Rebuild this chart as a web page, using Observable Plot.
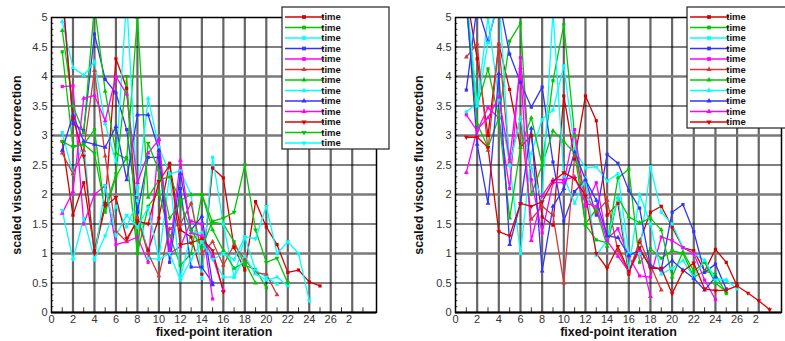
<!DOCTYPE html>
<html><head><meta charset="utf-8">
<script src="https://cdn.jsdelivr.net/npm/d3@7"></script>
<script src="https://cdn.jsdelivr.net/npm/@observablehq/plot@0.6"></script>
<style>
body{margin:0;background:#fff;}
#wrap{position:relative;width:785px;height:341px;overflow:hidden;font-family:"Liberation Sans",Arial,sans-serif;}
#left{position:absolute;left:0;top:0;}
#right{position:absolute;left:400px;top:0;}
</style></head><body><div id="wrap"><div id="left"></div><div id="right"></div></div>
<script>
// ---- series styling (legend order) ----
const seriesColors = ["#d40000","#00c800","#00ffff","#3333ff","#ff00ff",
                      "#d23a3a","#00c800","#00ffff","#3333ff","#ff00ff",
                      "#e00000","#00c800","#00ffff"];
const seriesSymbols = ["square","square","square","square","square",
                       "triangle","triangle","triangle","triangle","triangle",
                       "down","down","down"];
const legendLabel = "time";

// ---- axis ticks ----
const xTicks = [0,2,4,6,8,10,12,14,16,18,20,22,24,26,28];
const xTickLabels = ["0","2","4","6","8","10","12","14","16","18","20","22","24","26","2\u2007"];
const yTicks = [0,0.5,1,1.5,2,2.5,3,3.5,4,4.5,5];
const yTickLabels = ["0","0.5","1","1.5","2","2.5","3","3.5","4","4.5","5"];

// ---- left panel: values at iteration 1..N ----
const L1  = [2.9,1.65,2.2,1.05,1.85,4.3,3.8,1.6,1.05,1.6,2.53,1.4,1.28,0.65,2.45,2.28,1.1,0.72,1.88,1.45,1.15,0.68,0.72,0.52,0.45];
const L2  = [4.42,2.82,2.85,3.1,1.7,2.3,2.63,1.0,1.8,2.05,1.3,0.8,1.0,2.0,1.53,1.5,1.2,0.8,0.73,0.42];
const L3  = [3.05,2.35,2.9,0.9,1.3,1.8,1.45,1.9,0.92,0.9,2.35,2.4,2.0,0.58,2.63,1.5,0.6,1.28,0.72,0.6,0.48];
const L4  = [5.5,3.2,3.08,4.72,3.95,3.72,3.1,1.7,2.63,2.63,0.85,2.1,0.77,0.77,0.5];
const L5  = [3.83,3.84,1.5,2.0,2.15,1.15,1.2,1.28,0.85,2.93,1.0,1.12,1.55,1.5,0.23];
const L6  = [2.7,2.35,2.75,4.1,2.65,1.38,1.2,1.6,1.0,0.62,1.42,1.5,1.85,1.0,1.2,0.8,1.15,0.9,0.67,0.65,0.3];
const L7  = [4.78,3.5,3.05,5.2,3.75,2.7,2.6,5.0,1.95,2.25,2.3,1.9,2.0,2.0,1.4,1.05,0.75,0.85,0.5];
const L8  = [4.93,4.15,4.02,4.25,3.2,2.55,5.3,2.0,3.63,2.8,2.35,0.58,1.35,1.35,0.92,0.6,0.6,0.95,0.65,0.55,0.6,0.45];
const L9  = [2.75,3.35,2.9,2.85,2.8,3.15,2.25,3.35,3.35,2.75,1.0,2.35,1.4,1.63,0.47];
const L10 = [1.68,2.05,3.63,3.68,3.25,4.0,3.7,2.2,2.7,2.93,1.05,2.58,1.35,1.3,0.95,0.38];
const L11 = [5.4,3.3,2.65,1.0,1.8,1.95,1.25,1.55,1.5,2.22,2.5,1.15,1.18,1.25,1.05,0.35];
const L12 = [2.9,2.8,2.85,2.7,1.75,2.35,4.0,1.0,2.87,2.4,1.6,1.85,1.4,1.1,1.55,1.6,1.7,2.5,1.4,0.85,0.92,0.5];
const L13 = [1.73,0.9,1.6,0.9,2.15,1.3,1.65,1.45,1.78,0.9,1.0,0.55,0.9,1.2,0.9,1.0,0.9,1.28,1.25,1.8,1.0,1.2,1.0,0.2];

// ---- right panel ----
const R1  = [5.4,4.3,3.0,4.55,3.78,2.8,3.0,1.62,1.48,3.67,2.6,3.67,3.25,1.65,1.85,0.65,1.2,1.7,1.8,1.45,1.1,1.05,0.7,1.07,0.85,0.45];
const R2  = [5.3,3.5,4.13,3.3,4.6,4.9,2.0,2.5,3.93,4.88,3.0,1.48,1.23,1.18,2.28,2.43,0.85,1.08,0.92,1.05,1.0,0.6,0.7,0.65,0.32];
const R3  = [3.4,3.55,5.0,3.6,2.5,1.0,2.7,3.27,3.43,4.18,2.75,2.45,2.47,2.23,2.35,1.0,1.0,2.47,1.7,1.5,1.1,1.0,0.88,0.55,0.55,0.4];
const R4  = [3.77,5.2,4.6,5.3,4.38,3.9,3.48,3.82,2.55,1.55,2.05,2.25,1.65,2.68,2.53,2.07,1.77,0.77,0.73,1.7,1.83,1.37,0.68,0.82,0.4];
const R5  = [3.35,3.08,3.47,3.3,2.1,4.32,2.25,1.35,2.2,2.2,3.1,1.8,2.2,1.25,1.42,0.95,0.62,0.6,1.28,1.22,1.1,1.0,0.55,0.22];
const R6  = [4.33,4.55,2.75,4.55,2.55,3.3,1.58,1.8,1.65,0.5,2.65,2.0,1.7,1.9,1.05,0.68,1.22,0.8,0.38];
const R7  = [5.2,3.2,2.8,3.3,1.6,2.8,3.3,2.5,3.08,2.9,2.7,1.5,1.75,1.12,1.95,1.62,1.52,1.6,1.4,0.6,1.03,0.7,0.85,0.5,0.35];
const R8  = [5.4,3.5,4.57,5.4,2.5,3.3,2.45,1.9,5.1,2.3,1.85,2.27,0.97,1.22,1.95,0.72,2.0,1.5,0.65,0.75,0.88,0.6,0.88,0.58,0.55];
const R9  = [5.3,2.85,1.85,4.05,1.15,1.85,3.12,0.7,1.8,2.1,2.72,2.25,1.9,1.3,1.27,0.97,1.05,0.8,0.72,0.88,0.72,0.58,0.38,0.6];
const R10 = [2.37,3.1,3.3,3.65,2.6,4.15,1.22,1.98,2.25,2.25,2.3,1.85,1.8,1.22,0.95,0.7,1.05,0.27];
const R11 = [2.97,2.97,2.8,1.37,1.3,1.85,1.8,1.88,2.22,2.37,2.27,1.98,1.0,0.75,1.12,0.7,1.1,0.75,0.75,0.32,0.7,0.84,0.4,0.37,0.38,0.45,0.33,0.2,0.05];

const leftSeries = [L1,L2,L3,L4,L5,L6,L7,L8,L9,L10,L11,L12,L13];
const rightSeries = [R1,R2,R3,R4,R5,R6,R7,R8,R9,R10,R11];

function rowsOf(series) {
  const rows = [];
  series.forEach((vals, s) => vals.forEach((v, j) => rows.push({s, x: j + 1, y: v})));
  return rows;
}

function makePanel(series, opts) {
  const rows = rowsOf(series);
  const col = d => seriesColors[d.s];
  const sq = rows.filter(d => seriesSymbols[d.s] === "square");
  const tri = rows.filter(d => seriesSymbols[d.s] === "triangle");
  const dn = rows.filter(d => seriesSymbols[d.s] === "down");
  const evenX = d3.range(2, 29, 2);
  const oddX = d3.range(1, 30, 2);
  const intY = [1,2,3,4];
  const halfY = [0.5,1.5,2.5,3.5,4.5];
  const minorY = d3.range(1, 50).map(i => i / 10);
  const svg = Plot.plot({
    width: opts.width, height: 341,
    marginLeft: opts.ml, marginRight: opts.mr, marginTop: 17, marginBottom: 29,
    style: {fontFamily: '"Liberation Sans", Arial, sans-serif', background: "white"},
    x: {domain: [0, opts.xmax]},
    y: {domain: [0, 5]},
    color: {type: "identity"},
    marks: [
      Plot.ruleX(evenX, {stroke: "#666", strokeWidth: 2.2}),
      Plot.ruleY(intY, {stroke: "#7a7a7a", strokeWidth: 2.6}),
      Plot.ruleY(halfY, {stroke: "#000", strokeWidth: 1.1}),
      Plot.ruleY(minorY, {x1: 0, x2: 0.22, stroke: "#000", strokeWidth: 0.8}),
      Plot.ruleX(oddX.filter(v => v < opts.xmax), {y1: 0, y2: 0.08, stroke: "#000", strokeWidth: 0.8}),
      Plot.line(rows, {x: "x", y: "y", z: "s", stroke: col, strokeWidth: 1.3, clip: true}),
      Plot.dot(sq, {x: "x", y: "y", symbol: "square", r: 1.8, fill: col, stroke: null, clip: true}),
      Plot.dot(tri, {x: "x", y: "y", symbol: "triangle", r: 1.8, fill: col, stroke: null, clip: true}),
      Plot.dot(dn, {x: "x", y: "y", symbol: "triangle", rotate: 180, r: 1.8, fill: col, stroke: null, clip: true}),
      Plot.frame({stroke: "#000", strokeWidth: 1.5}),
      Plot.ruleY([0], {stroke: "#000", strokeWidth: 2.2}),
      Plot.axisX({ticks: xTicks, tickFormat: d => xTickLabels[xTicks.indexOf(d)], tickSize: 0, tickPadding: 3, fontSize: 11, fill: "#333", label: null}),
      Plot.axisY({ticks: yTicks, tickFormat: d => yTickLabels[yTicks.indexOf(d)], tickSize: 0, tickPadding: 4, fontSize: 11, fill: "#333", label: null}),
      Plot.text(["fixed-point iteration"], {frameAnchor: "bottom", dy: 19, lineAnchor: "middle", textAnchor: "middle", fontWeight: "bold", fontSize: 12.5, fill: "#111"}),
      Plot.text(["scaled viscous flux correction"], {frameAnchor: "left", dx: opts.ydx, rotate: -90, textAnchor: "middle", lineAnchor: "middle", fontWeight: "bold", fontSize: 12.5, fill: "#111"})
    ]
  });
  // legend
  const g = d3.select(svg).append("g");
  const lg = opts.legend;
  const n = series.length;
  g.append("rect").attr("x", lg.x).attr("y", 7).attr("width", lg.w).attr("height", lg.h)
    .attr("fill", "white").attr("stroke", "#222").attr("stroke-width", 1.2);
  for (let i = 0; i < n; i++) {
    const y = 17 + i * 10.5;
    const c = seriesColors[i];
    g.append("line").attr("x1", lg.x + 3).attr("x2", lg.x + 42).attr("y1", y).attr("y2", y)
      .attr("stroke", c).attr("stroke-width", 1.6);
    const mx = lg.x + 22;
    const sym = seriesSymbols[i];
    const path = d3.symbol(sym === "square" ? d3.symbolSquare : d3.symbolTriangle, sym === "square" ? 14 : 12)();
    g.append("path").attr("d", path).attr("fill", c)
      .attr("transform", `translate(${mx},${y})` + (sym === "down" ? " rotate(180)" : ""));
    g.append("text").attr("x", lg.x + 49).attr("y", y).attr("dy", "0.35em")
      .attr("font-size", 9.5).attr("font-weight", "bold").attr("fill", "#111")
      .attr("font-family", '"Liberation Sans", Arial, sans-serif').text(legendLabel);
  }
  return svg;
}

document.getElementById("left").appendChild(makePanel(leftSeries, {
  width: 400, ml: 51, mr: 24, xmax: 30.26, ydx: -35, legend: {x: 282, w: 107, h: 142}
}));
document.getElementById("right").appendChild(makePanel(rightSeries, {
  width: 385, ml: 55, mr: 4, xmax: 30.1, ydx: -37, legend: {x: 287, w: 110, h: 121}
}));
</script></body></html>
